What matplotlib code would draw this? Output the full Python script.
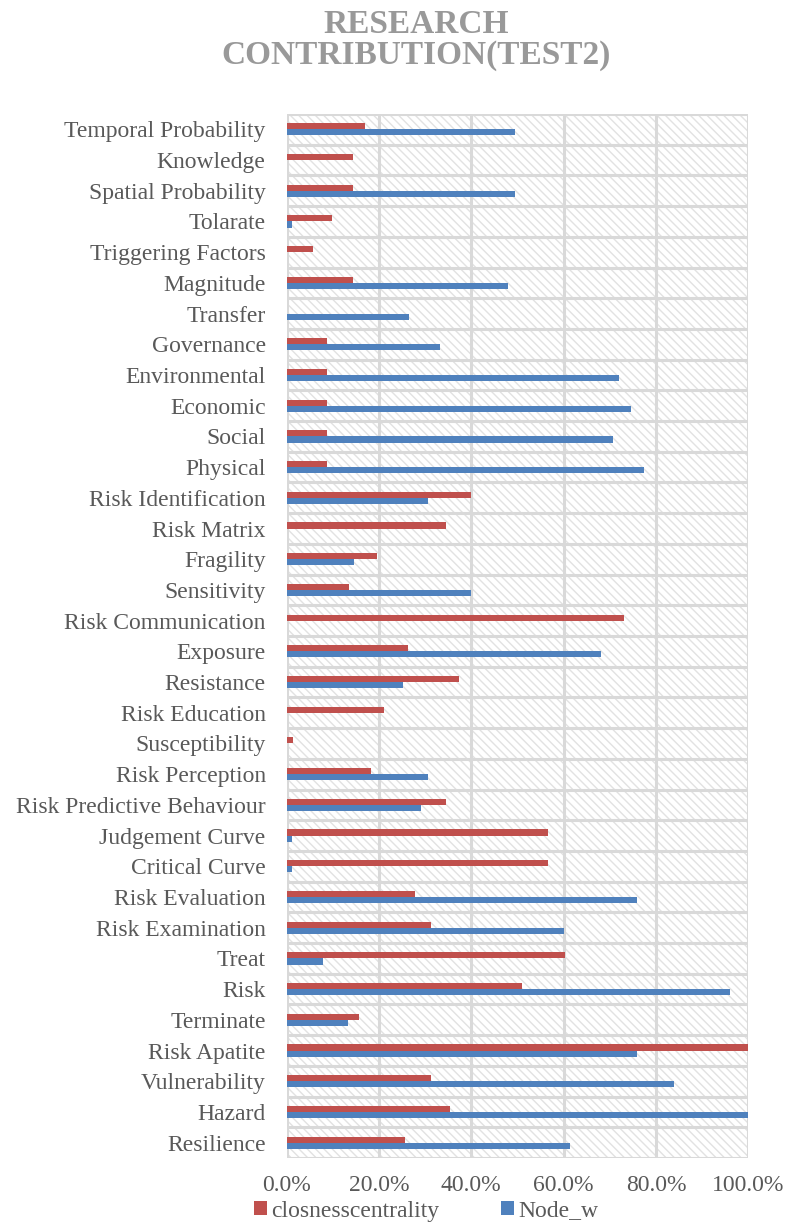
import matplotlib
matplotlib.use("Agg")
import matplotlib.pyplot as plt
from matplotlib.patches import Rectangle
from matplotlib.ticker import FuncFormatter
import numpy as np

# Categories listed bottom -> top
categories = [
    "Resilience", "Hazard", "Vulnerability", "Risk Apatite", "Terminate", "Risk",
    "Treat", "Risk Examination", "Risk Evaluation", "Critical Curve", "Judgement Curve",
    "Risk Predictive Behaviour", "Risk Perception", "Susceptibility", "Risk Education",
    "Resistance", "Exposure", "Risk Communication", "Sensitivity", "Fragility",
    "Risk Matrix", "Risk Identification", "Physical", "Social", "Economic",
    "Environmental", "Governance", "Transfer", "Magnitude", "Triggering Factors",
    "Tolarate", "Spatial Probability", "Knowledge", "Temporal Probability",
]

closeness = [
    25.6, 35.5, 31.2, 100.0, 15.6, 51.0,
    60.2, 31.2, 27.9, 56.6, 56.6,
    34.6, 18.3, 1.4, 21.1,
    37.3, 26.4, 73.1, 13.6, 19.6,
    34.6, 39.9, 8.7, 8.7, 8.7,
    8.7, 8.7, 0.0, 14.3, 5.8,
    9.9, 14.3, 14.3, 16.9,
]

node_w = [
    61.3, 100.0, 84.0, 76.0, 13.3, 96.0,
    7.9, 60.0, 76.0, 1.2, 1.2,
    29.2, 30.6, 0.0, 0.0,
    25.3, 68.0, 0.0, 39.9, 14.6,
    0.0, 30.6, 77.4, 70.7, 74.7,
    72.1, 33.3, 26.6, 48.0, 0.0,
    1.2, 49.4, 0.0, 49.4,
]

x_ticks = [0, 20, 40, 60, 80, 100]
series_names = ["closnesscentrality", "Node_w"]
title_text = "RESEARCH\nCONTRIBUTION(TEST2)"

RED = "#C0504D"
BLUE = "#4F81BD"
GRID = "#D9D9D9"
TXT = "#595959"

plt.rcParams["font.family"] = ["Liberation Serif", "DejaVu Serif"]
plt.rcParams["hatch.linewidth"] = 1.0
plt.rcParams["hatch.color"] = "#E2E2E2"

W, H = 806, 1224
fig = plt.figure(figsize=(W / 100, H / 100), dpi=100)
ax = fig.add_axes([286.5 / W, 1 - 1158 / H, (748.3 - 286.5) / W, (1158 - 114) / H])

ax.set_facecolor("white")
ax.add_patch(Rectangle((0, 0), 1, 1, transform=ax.transAxes, facecolor="white",
                       edgecolor="#E2E2E2", hatch="\\\\\\\\", linewidth=0, zorder=0))

y = np.arange(len(categories))
bh = 0.2
off = 0.1
ax.barh(y + off, closeness, height=bh, color=RED, linewidth=0,
        zorder=3, label=series_names[0])
ax.barh(y - off, node_w, height=bh, color=BLUE, linewidth=0,
        zorder=3, label=series_names[1])

ax.set_xlim(0, 100)
ax.set_ylim(-0.5, len(categories) - 0.5)

# grid lines
for xv in x_ticks:
    ax.axvline(xv, color=GRID, linewidth=2.2, zorder=2)
for k in range(len(categories) + 1):
    ax.axhline(k - 0.5, color=GRID, linewidth=2.2, zorder=2)

for s in ax.spines.values():
    s.set_visible(False)

ax.set_yticks(y)
ax.set_yticklabels(categories, fontsize=17, color=TXT)
ax.set_xticks(x_ticks)
ax.xaxis.set_major_formatter(FuncFormatter(lambda v, p: f"{v:.1f}%"))
ax.tick_params(axis="x", length=0, pad=12, labelsize=17, labelcolor=TXT)
ax.tick_params(axis="y", length=0, pad=15)

fig.text(416 / W, 1 - 40 / H, title_text, ha="center", va="center", fontsize=24,
         fontweight="bold", color="#999999", linespacing=0.95)

handles, labels = ax.get_legend_handles_labels()
leg = fig.legend(handles, labels, loc="center", bbox_to_anchor=(426 / W, 1 - 1211 / H),
                 ncol=2, frameon=False, fontsize=17, handlelength=0.55, handleheight=0.55,
                 handletextpad=0.2, columnspacing=2.6, borderpad=0, borderaxespad=0)
for t in leg.get_texts():
    t.set_color(TXT)

fig.savefig("out.png", dpi=100)
